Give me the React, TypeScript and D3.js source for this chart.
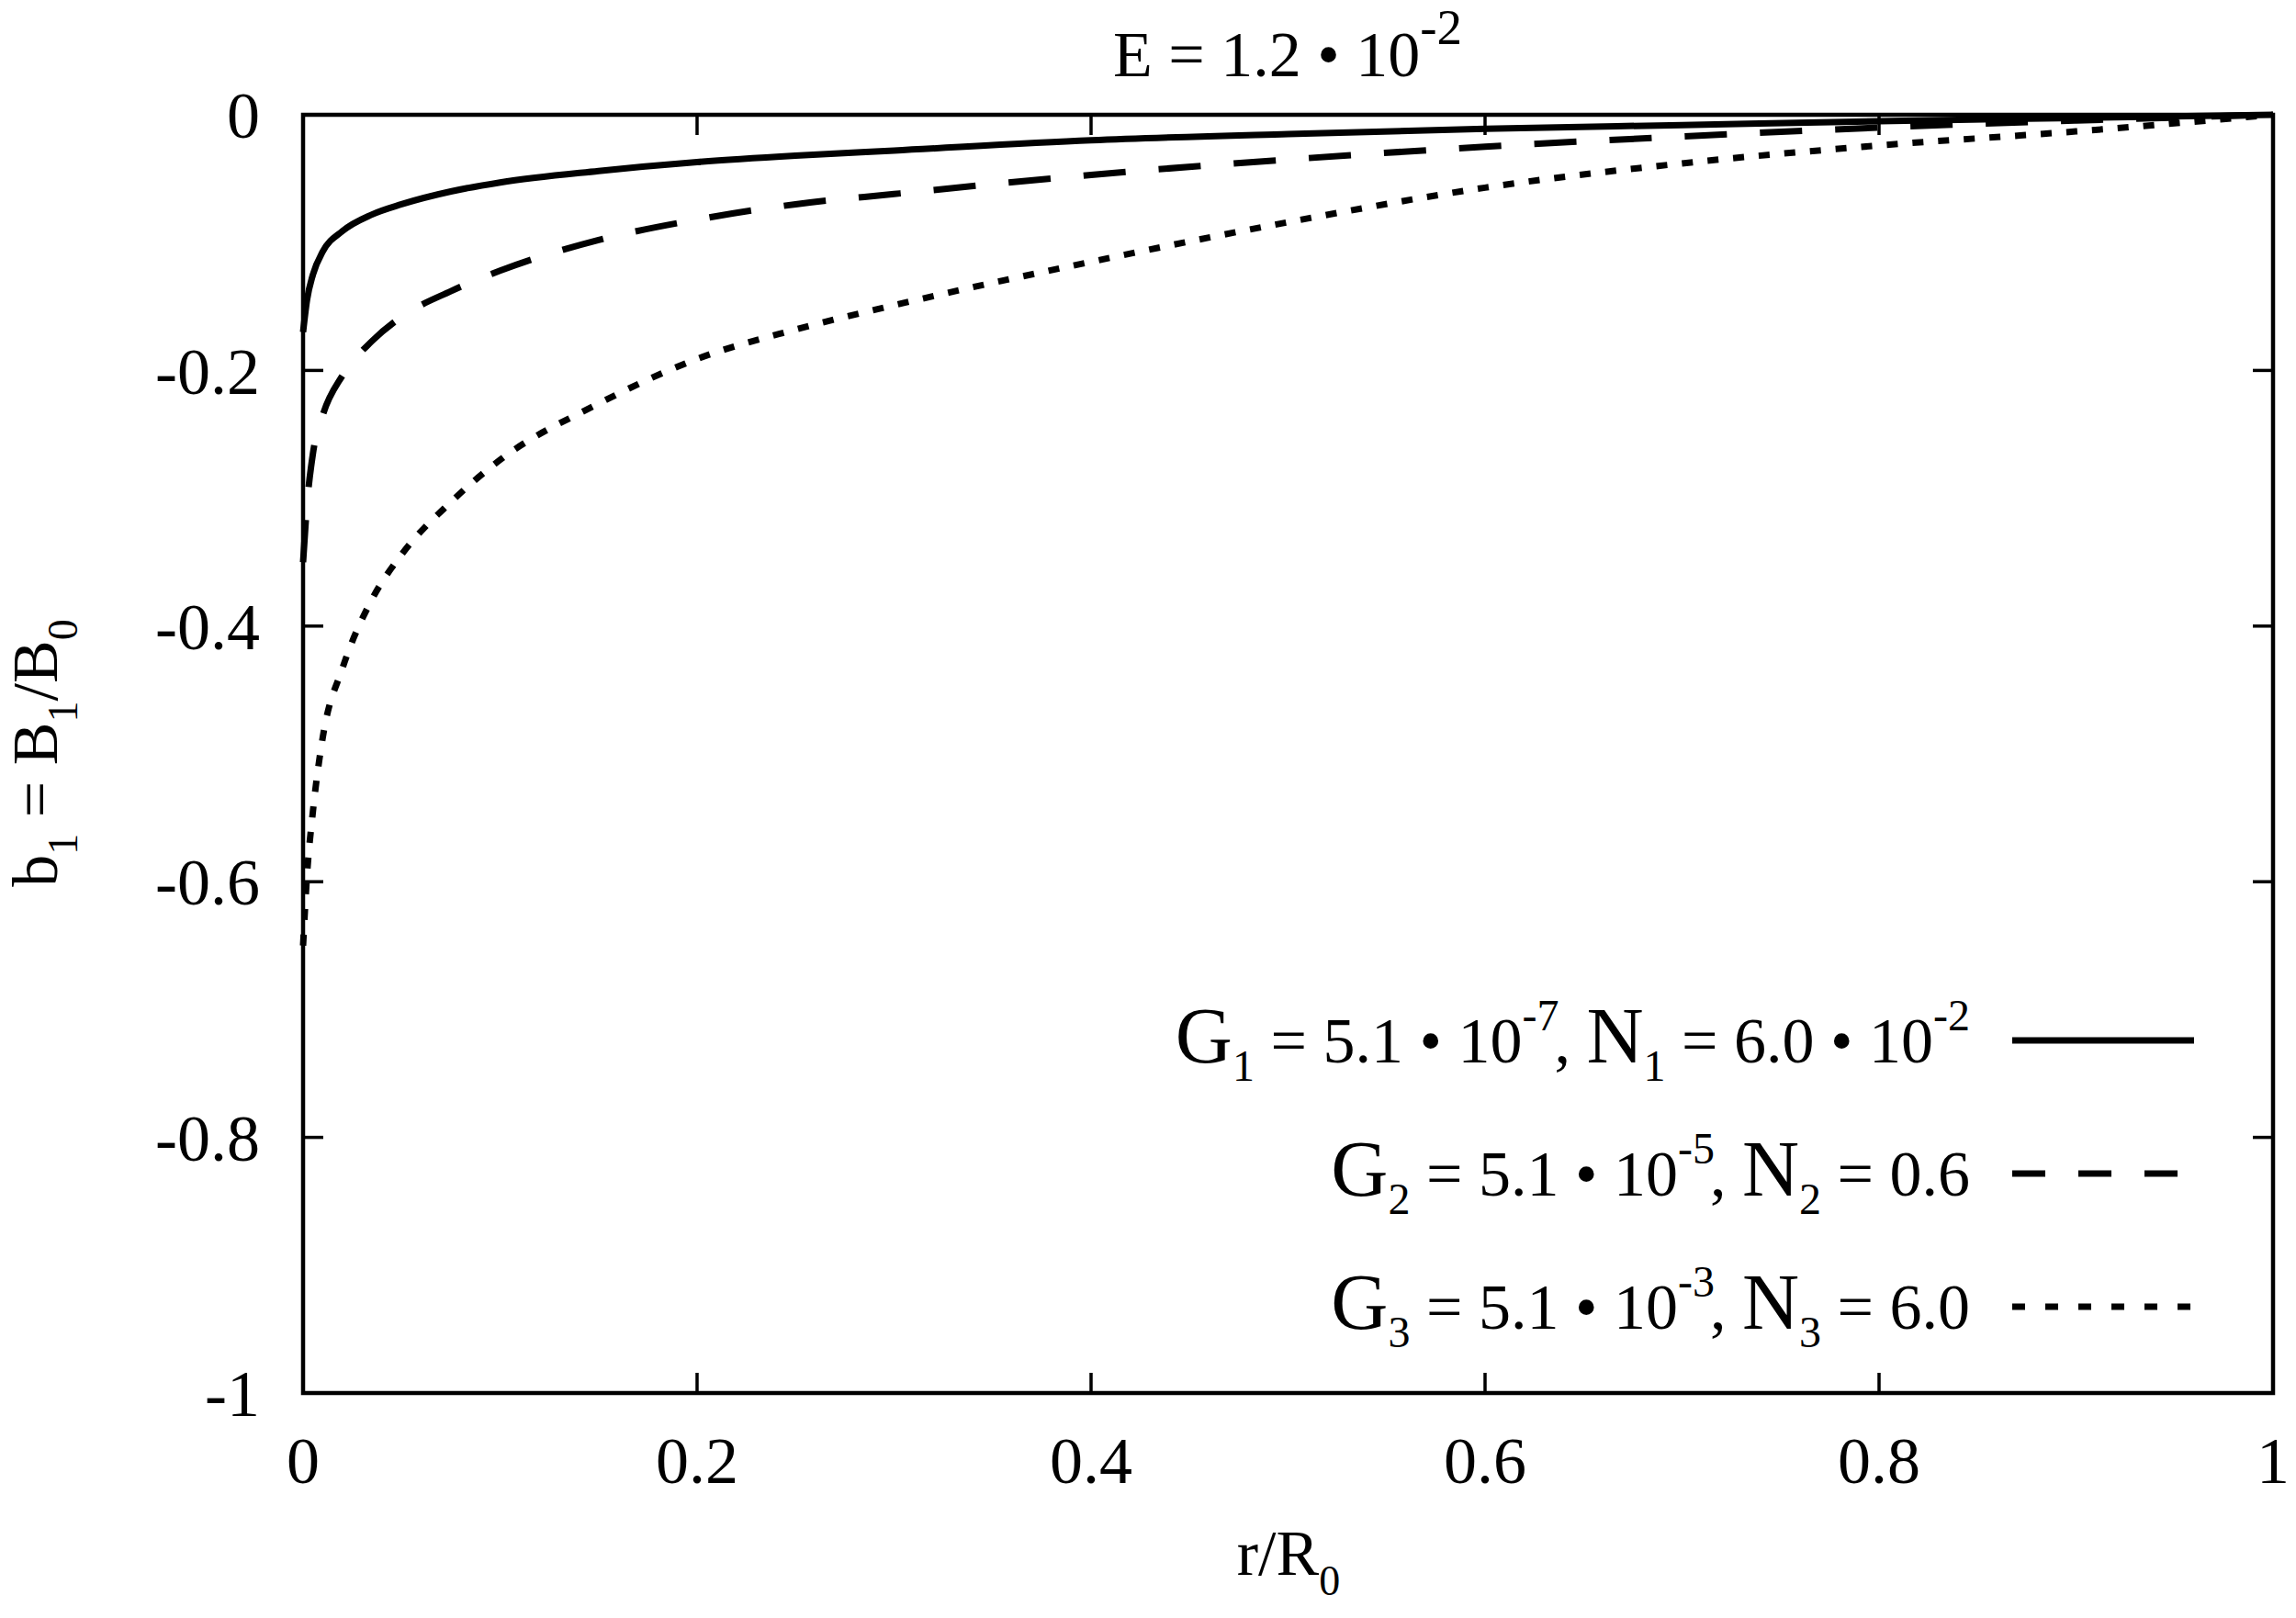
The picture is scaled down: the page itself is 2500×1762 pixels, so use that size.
import React, { useEffect, useRef } from "react";
import * as d3 from "d3";

// r/R0 sample positions
const rValues = [0, 0.002, 0.005, 0.01, 0.02, 0.035, 0.05, 0.075, 0.1, 0.15, 0.2, 0.25, 0.3, 0.4, 0.5, 0.6, 0.7, 0.8, 0.9, 1];
// b1 for G1 (solid)
const solidValues = [-0.17, -0.145, -0.125, -0.107, -0.091, -0.078, -0.07, -0.06, -0.053, -0.044, -0.037, -0.032, -0.028, -0.02, -0.015, -0.011, -0.008, -0.005, -0.0025, 0];
// b1 for G2 (dashed)
const dashedValues = [-0.35, -0.305, -0.265, -0.235, -0.204, -0.177, -0.158, -0.138, -0.122, -0.098, -0.082, -0.07, -0.062, -0.047, -0.035, -0.025, -0.017, -0.01, -0.0045, 0];
// b1 for G3 (dotted)
const dottedValues = [-0.65, -0.595, -0.545, -0.487, -0.433, -0.379, -0.344, -0.303, -0.27, -0.226, -0.191, -0.168, -0.149, -0.115, -0.084, -0.057, -0.038, -0.024, -0.013, 0];

const xTicks = [0, 0.2, 0.4, 0.6, 0.8, 1];
const yTicks = [0, -0.2, -0.4, -0.6, -0.8, -1];

type Part = [string, string]; // [text, kind]

const legendEntries: { parts: Part[]; dash: string }[] = [
  {
    parts: [["G", "L"], ["1", "sub"], [" = 5.1 • 10", "n"], ["-7", "sup"], [",", "comma"], [" ", "n"], ["N", "L"], ["1", "sub"], [" = 6.0 • 10", "n"], ["-2", "sup"]],
    dash: "none",
  },
  {
    parts: [["G", "L"], ["2", "sub"], [" = 5.1 • 10", "n"], ["-5", "sup"], [",", "comma"], [" ", "n"], ["N", "L"], ["2", "sub"], [" = 0.6", "n"]],
    dash: "36,36",
  },
  {
    parts: [["G", "L"], ["3", "sub"], [" = 5.1 • 10", "n"], ["-3", "sup"], [",", "comma"], [" ", "n"], ["N", "L"], ["3", "sub"], [" = 6.0", "n"]],
    dash: "14,22",
  },
];

const FONT = "'Liberation Serif', 'Times New Roman', serif";

function richText(
  g: d3.Selection<SVGGElement, unknown, null, undefined>,
  x: number,
  y: number,
  parts: Part[],
  anchor: string,
  opts: { size: number; big: number; small: number; up: number; down: number },
  transform?: string,
) {
  const t = g
    .append("text")
    .attr("x", x)
    .attr("y", y)
    .attr("text-anchor", anchor)
    .attr("font-family", FONT)
    .attr("font-size", opts.size)
    .style("white-space", "pre");
  if (transform) t.attr("transform", transform);
  let shift = 0;
  parts.forEach(([txt, kind]) => {
    const s = t.append("tspan").text(txt);
    let target = 0;
    if (kind === "sub") {
      target = opts.down;
      s.attr("font-size", opts.small);
    } else if (kind === "sup") {
      target = -opts.up;
      s.attr("font-size", opts.small);
    } else if (kind === "L") {
      s.attr("font-size", opts.big);
    } else if (kind === "comma") {
      s.attr("dx", -5);
    }
    if (target !== shift) {
      s.attr("dy", target - shift);
      shift = target;
    }
  });
}

const App: React.FC = () => {
  const svgRef = useRef<SVGSVGElement | null>(null);

  useEffect(() => {
    const width = 2500;
    const height = 1762;
    const left = 330;
    const right = 2475;
    const top = 125;
    const bottom = 1517;

    const svg = d3.select(svgRef.current).attr("viewBox", [0, 0, width, height]);
    svg.selectAll("*").remove();
    const root = svg.append("g");

    const x = d3.scaleLinear().domain([0, 1]).range([left, right]);
    const y = d3.scaleLinear().domain([-1, 0]).range([bottom, top]);

    // ticks, mirrored on all four sides
    const tickLen = 22;
    xTicks.forEach((t) => {
      root.append("line").attr("x1", x(t)).attr("x2", x(t)).attr("y1", bottom).attr("y2", bottom - tickLen).attr("stroke", "#000").attr("stroke-width", 3.5);
      root.append("line").attr("x1", x(t)).attr("x2", x(t)).attr("y1", top).attr("y2", top + tickLen).attr("stroke", "#000").attr("stroke-width", 3.5);
      root
        .append("text")
        .attr("x", x(t))
        .attr("y", 1615)
        .attr("text-anchor", "middle")
        .attr("font-family", FONT)
        .attr("font-size", 72)
        .text(d3.format("~g")(t));
    });
    yTicks.forEach((t) => {
      root.append("line").attr("x1", left).attr("x2", left + tickLen).attr("y1", y(t)).attr("y2", y(t)).attr("stroke", "#000").attr("stroke-width", 3.5);
      root.append("line").attr("x1", right).attr("x2", right - tickLen).attr("y1", y(t)).attr("y2", y(t)).attr("stroke", "#000").attr("stroke-width", 3.5);
      root
        .append("text")
        .attr("x", 283)
        .attr("y", y(t))
        .attr("dy", "0.35em")
        .attr("text-anchor", "end")
        .attr("font-family", FONT)
        .attr("font-size", 72)
        .text(d3.format("~g")(t).replace("−", "-"));
    });

    // curves
    const line = d3
      .line<number>()
      .x((_, i) => x(rValues[i]))
      .y((d) => y(d))
      .curve(d3.curveMonotoneX);

    const series = [
      { values: solidValues, dash: "none" },
      { values: dashedValues, dash: "46,36" },
      { values: dottedValues, dash: "12,16" },
    ];
    series.forEach((s) => {
      root
        .append("path")
        .attr("d", line(s.values))
        .attr("fill", "none")
        .attr("stroke", "#000")
        .attr("stroke-width", 7)
        .attr("stroke-dasharray", s.dash);
    });

    // frame
    root
      .append("rect")
      .attr("x", left)
      .attr("y", top)
      .attr("width", right - left)
      .attr("height", bottom - top)
      .attr("fill", "none")
      .attr("stroke", "#000")
      .attr("stroke-width", 4.5);

    // legend
    const legendBase = [1157, 1302, 1447];
    legendEntries.forEach((e, i) => {
      richText(root, 2145, legendBase[i], e.parts, "end", { size: 70, big: 86, small: 48, up: 35, down: 20 });
      root
        .append("line")
        .attr("x1", 2191)
        .attr("x2", 2389)
        .attr("y1", legendBase[i] - 24)
        .attr("y2", legendBase[i] - 24)
        .attr("stroke", "#000")
        .attr("stroke-width", 7)
        .attr("stroke-dasharray", e.dash);
    });

    // title
    richText(root, 1402, 83, [["E = 1.2 • 10", "n"], ["-2", "sup"]], "middle", { size: 70, big: 70, small: 55, up: 35, down: 20 });

    // axis labels
    richText(root, 1403, 1715, [["r/R", "n"], ["0", "sub"]], "middle", { size: 70, big: 70, small: 46, up: 35, down: 22 });
    richText(
      root,
      0,
      0,
      [["b", "n"], ["1", "sub"], [" = B", "n"], ["1", "sub"], ["/B", "n"], ["0", "sub"]],
      "middle",
      { size: 70, big: 70, small: 46, up: 35, down: 22 },
      "translate(62,820) rotate(-90)",
    );
  }, []);

  return (
    <div style={{ width: "2500px", height: "1762px", position: "absolute", left: 0, top: 0, background: "#fff" }}>
      <svg ref={svgRef} width={2500} height={1762} style={{ display: "block" }}></svg>
    </div>
  );
};

export default App;
